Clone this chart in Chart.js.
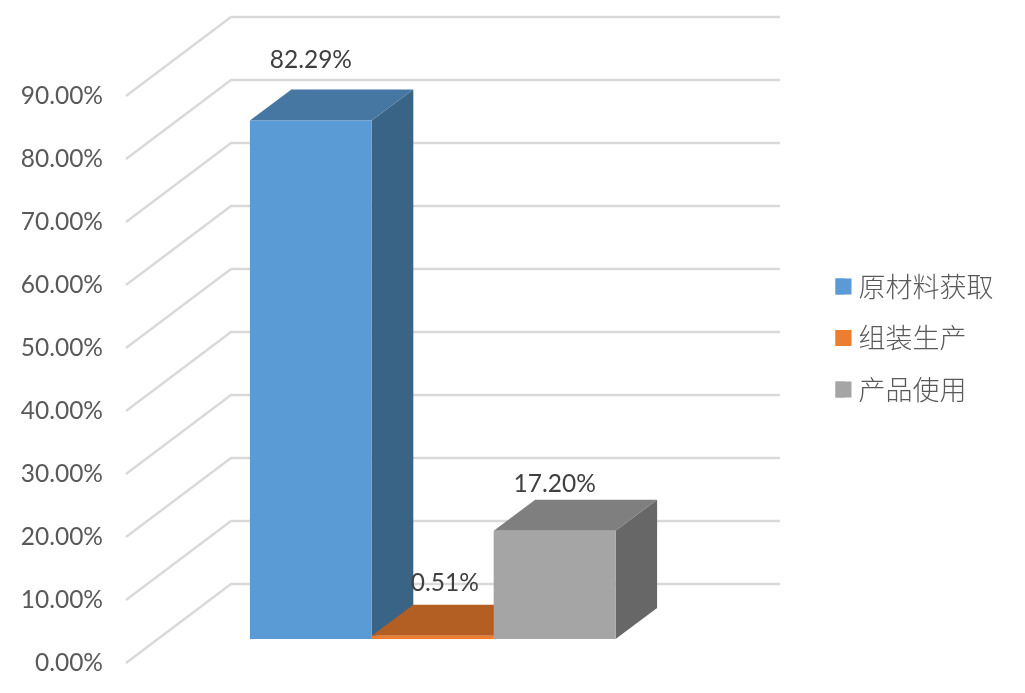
<!DOCTYPE html>
<html>
<head>
<meta charset="utf-8">
<style>html,body{margin:0;padding:0;background:#fff}canvas{display:block}</style>
<script src="https://cdn.jsdelivr.net/npm/chart.js@4"></script>
</head>
<body>
<div style="width:1025px;height:693px"><canvas id="c" width="1025" height="693"></canvas></div>
<script>
const categories = ['碳足迹'];
const seriesNames = ['原材料获取', '组装生产', '产品使用'];
const rawMaterial = [82.29];
const assembly = [0.51];
const productUse = [17.20];
const frontColors = ['#5B9BD5', '#ED7D31', '#A5A5A5'];
const topColors = ['#4676A2', '#B35E22', '#7F7F7F'];
const sideColors = ['#3A6486', '#8F4B1C', '#676767'];
const labelShift = [[0, -60.5], [12, -52.7], [0, -46.7]];

const DX = 41.5, DY = 31;            // bar depth on screen
const WALL_DX = 105, WALL_DY = 79;   // wall depth on screen
const WALL_LEFT = 126, WALL_RIGHT = 780;

const threeD = {
  id: 'threeD',
  beforeDatasetsDraw(chart) {
    const ctx = chart.ctx, y = chart.scales.y;
    ctx.save();
    ctx.strokeStyle = '#D9D9D9';
    ctx.lineWidth = 2.4;
    ctx.lineJoin = 'miter';
    y.ticks.forEach(t => {
      const py = y.getPixelForValue(t.value);
      ctx.beginPath();
      ctx.moveTo(WALL_LEFT, py);
      ctx.lineTo(WALL_LEFT + WALL_DX, py - WALL_DY);
      ctx.lineTo(WALL_RIGHT, py - WALL_DY);
      ctx.stroke();
    });
    chart.data.datasets.forEach((ds, i) => {
      const el = chart.getDatasetMeta(i).data[0];
      const l = el.x - el.width / 2, r = el.x + el.width / 2, t = el.y, b = el.base;
      ctx.fillStyle = sideColors[i];
      ctx.beginPath();
      ctx.moveTo(r, t); ctx.lineTo(r + DX, t - DY); ctx.lineTo(r + DX, b - DY); ctx.lineTo(r, b);
      ctx.closePath(); ctx.fill();
      ctx.fillStyle = topColors[i];
      ctx.beginPath();
      ctx.moveTo(l, t); ctx.lineTo(l + DX, t - DY); ctx.lineTo(r + DX, t - DY); ctx.lineTo(r, t);
      ctx.closePath(); ctx.fill();
    });
    ctx.restore();
  },
  afterDatasetsDraw(chart) {
    const ctx = chart.ctx;
    ctx.save();
    ctx.font = '24.5px Lato';
    ctx.fillStyle = '#404040';
    ctx.textAlign = 'center';
    ctx.textBaseline = 'middle';
    chart.data.datasets.forEach((ds, i) => {
      const el = chart.getDatasetMeta(i).data[0];
      ctx.fillText(ds.data[0].toFixed(2) + '%', el.x + labelShift[i][0], el.y + labelShift[i][1]);
    });
    ctx.restore();
  },
  afterDraw(chart) {
    // legend squares are wider than the box width that sets the text gap
    const ctx = chart.ctx, boxes = chart.legend.legendHitBoxes;
    ctx.save();
    boxes.forEach((b, i) => {
      ctx.fillStyle = frontColors[i];
      ctx.fillRect(b.left, b.top + 5.5, 16, 16);
    });
    ctx.restore();
  }
};

new Chart(document.getElementById('c'), {
  type: 'bar',
  data: {
    labels: categories,
    datasets: [rawMaterial, assembly, productUse].map((d, i) => ({
      label: seriesNames[i],
      data: d,
      backgroundColor: frontColors[i],
      borderWidth: 0,
      yAxisID: 'yBar'
    }))
  },
  plugins: [threeD],
  options: {
    responsive: false,
    animation: false,
    devicePixelRatio: 1,
    categoryPercentage: 0.6655,
    barPercentage: 1,
    layout: { padding: { top: 13, bottom: 30, left: 0, right: 21.5 } },
    plugins: {
      tooltip: { enabled: false },
      legend: {
        position: 'right',
        maxWidth: 300,
        labels: {
          boxWidth: 9.5,
          boxHeight: 16,
          padding: 24.5,
          color: '#595959',
          font: { family: '"Noto Sans CJK SC"', size: 27, weight: '300' }
        }
      }
    },
    scales: {
      x: { display: false },
      y: {
        position: 'left',
        min: 0,
        max: 103.17,
        grid: { display: false, drawTicks: false },
        border: { display: false },
        ticks: {
          stepSize: 10,
          padding: 55,
          color: '#595959',
          autoSkip: false,
          font: { family: 'Lato', size: 24.5 },
          callback: v => v.toFixed(2) + '%'
        },
        afterBuildTicks: s => { s.ticks = s.ticks.filter(t => t.value <= 90); },
        afterFit: s => { s.width = 158; s.paddingTop = 0; s.paddingBottom = 0; }
      },
      yBar: {
        position: 'right',
        min: -3.81,
        max: 99.36,
        grid: { display: false },
        border: { display: false },
        ticks: { display: false },
        afterFit: s => { s.width = 103.5; s.paddingTop = 0; s.paddingBottom = 0; }
      }
    }
  }
});
</script>
</body>
</html>
